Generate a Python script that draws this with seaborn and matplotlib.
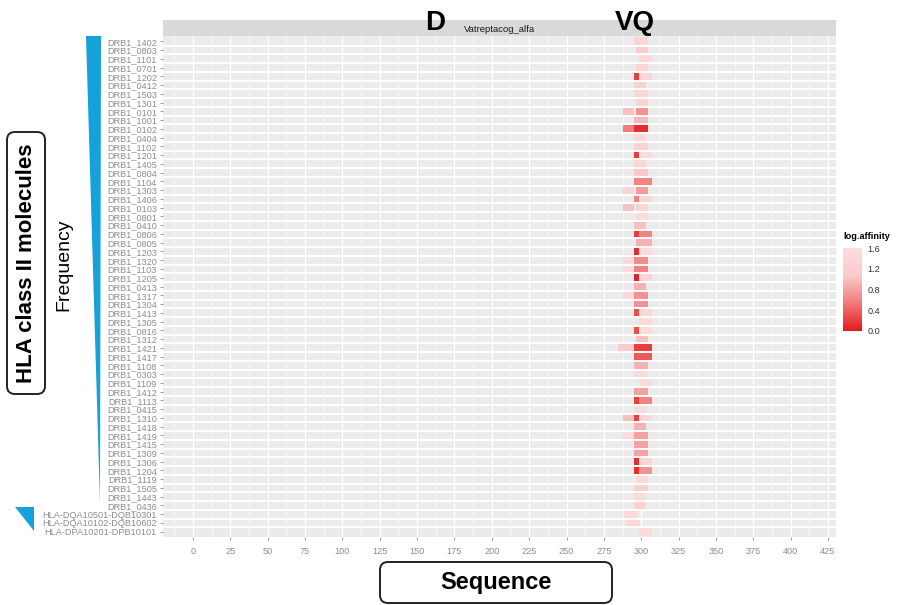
import numpy as np
import pandas as pd
import seaborn as sns
import matplotlib.pyplot as plt
from matplotlib.colors import LinearSegmentedColormap
from matplotlib.patches import FancyBboxPatch, Polygon, Rectangle
from matplotlib.transforms import blended_transform_factory

alleles = ['DRB1_1402', 'DRB1_0803', 'DRB1_1101', 'DRB1_0701', 'DRB1_1202', 'DRB1_0412',
           'DRB1_1503', 'DRB1_1301', 'DRB1_0101', 'DRB1_1001', 'DRB1_0102', 'DRB1_0404',
           'DRB1_1102', 'DRB1_1201', 'DRB1_1405', 'DRB1_0804', 'DRB1_1104', 'DRB1_1303',
           'DRB1_1406', 'DRB1_0103', 'DRB1_0801', 'DRB1_0410', 'DRB1_0806', 'DRB1_0805',
           'DRB1_1203', 'DRB1_1320', 'DRB1_1103', 'DRB1_1205', 'DRB1_0413', 'DRB1_1317',
           'DRB1_1304', 'DRB1_1413', 'DRB1_1305', 'DRB1_0816', 'DRB1_1312', 'DRB1_1421',
           'DRB1_1417', 'DRB1_1108', 'DRB1_0303', 'DRB1_1109', 'DRB1_1412', 'DRB1_1113',
           'DRB1_0415', 'DRB1_1310', 'DRB1_1418', 'DRB1_1419', 'DRB1_1415', 'DRB1_1309',
           'DRB1_1306', 'DRB1_1204', 'DRB1_1119', 'DRB1_1505', 'DRB1_1443', 'DRB1_0436',
           'HLA-DQA10501-DQB10301', 'HLA-DQA10102-DQB10602', 'HLA-DPA10201-DPB10101']

nan = np.nan
# main binding window per allele (sequence positions) and its log.affinity
core_start = [296, 297, 299, 297, 299, 296, 296, 297, 297, 296, 296, 296, 296, 299, 296, 296, 296, 297, 299,
              297, 297, 296, 299, 297, 299, 296, 296, 299, 296, 296, 296, 299, 299, 299, 297, 296, 296, 296,
              296, 299, 296, 299, 296, 299, 296, 296, 296, 296, 299, 299, 297, 296, 296, 296, 289, 290, 299]
core_end = [304, 304, 307, 304, 307, 303, 304, 304, 304, 304, 304, 303, 304, 307, 303, 304, 307, 304, 307,
            304, 304, 303, 307, 307, 307, 304, 304, 307, 303, 304, 304, 307, 307, 307, 304, 307, 307, 304,
            304, 307, 304, 307, 303, 307, 303, 304, 304, 304, 307, 307, 304, 304, 303, 303, 297, 299, 307]
core_val = [1.4, 1.15, 1.45, 1.4, 1.4, 1.25, 1.4, 1.35, 0.7, 0.95, 0.1, 1.45, 1.3, 1.5, 1.4, 1.05, 0.6, 0.75,
            1.4, 1.35, 1.5, 1.0, 0.6, 0.9, 1.5, 0.65, 0.6, 1.35, 0.9, 0.7, 0.7, 1.4, 1.5, 1.5, 1.0, 0.2, 0.35,
            0.9, 1.5, 1.5, 0.8, 0.6, 1.5, 1.4, 0.9, 0.8, 0.8, 0.8, 1.4, 0.7, 1.5, 1.2, 1.5, 1.3, 1.5, 1.45, 1.5]
# anchor window 296-298
anchor_val = [nan, nan, nan, nan, 0.2, nan, nan, nan, nan, nan, nan, nan, nan, 0.2, nan, nan, nan, nan, 0.6,
              nan, nan, nan, 0.2, nan, 0.1, nan, nan, 0.05, nan, nan, nan, 0.3, nan, 0.3, nan, nan, nan, nan,
              nan, nan, nan, 0.2, nan, 0.2, nan, nan, nan, nan, 0.1, 0.1, nan, nan, nan, nan, nan, nan, nan]
# upstream window (ends at 295)
flank_start = [288] * 35 + [285] + [288] * 21
flank_val = [nan, nan, nan, nan, nan, nan, nan, nan, 1.0, nan, 0.55, nan, nan, nan, nan, nan, nan, 1.35, nan,
             1.0, nan, nan, nan, nan, nan, 1.5, 1.55, nan, nan, 1.5, nan, nan, nan, nan, nan, 1.15, nan, nan,
             nan, nan, nan, nan, nan, 1.0, nan, 1.55, nan, nan, nan, nan, nan, nan, nan, nan, nan, nan, nan]

x_ticks = list(range(0, 426, 25))
mutation_labels = ['D', 'VQ']
mutation_pos = [162, 296]

positions = np.arange(-21, 433)
p0 = positions[0]
mat = np.full((len(alleles), len(positions)), np.nan)
for i in range(len(alleles)):
    if not np.isnan(flank_val[i]):
        mat[i, flank_start[i] - p0:295 - p0 + 1] = flank_val[i]
    mat[i, core_start[i] - p0:core_end[i] - p0 + 1] = core_val[i]
    if not np.isnan(anchor_val[i]):
        mat[i, 296 - p0:298 - p0 + 1] = anchor_val[i]
df = pd.DataFrame(mat, index=alleles, columns=positions)

sns.set_theme(style='white')
plt.rcParams['font.family'] = ['Liberation Sans', 'DejaVu Sans']
plt.rcParams['text.color'] = 'black'

W, H = 898, 605
fig = plt.figure(figsize=(W / 100, H / 100), dpi=100)


def fx(x):
    return x / W


def fy(y):
    return 1 - y / H


ax = fig.add_axes([fx(163), fy(537), (836 - 163) / W, (537 - 36) / H])
cax = fig.add_axes([fx(843), fy(331), 19 / W, (331 - 248) / H])

cmap = LinearSegmentedColormap.from_list('aff', ['#E21A1C', '#F07A7A', '#F9CACA', '#FCDDDD'])
sns.heatmap(df, cmap=cmap, vmin=0, vmax=1.6, ax=ax, cbar_ax=cax,
            xticklabels=False, yticklabels=False)
ax.set_facecolor('#EBEBEB')


def px(p):
    return p - p0 + 0.5


ax.set_xlim(px(-20.1), px(430.4))
ax.set_ylim(len(alleles) + 0.1, -0.1)

for t in x_ticks:
    ax.axvline(px(t), color='white', lw=0.9, zorder=0.5)
    ax.axvline(px(t - 12.5), color='white', lw=0.45, zorder=0.5)
ax.hlines(np.arange(1, len(alleles)), px(-25), px(435), color='white', lw=1.4, zorder=3)

ax.set_xticks([px(t) for t in x_ticks])
ax.set_xticklabels([str(t) for t in x_ticks], rotation=0)
ax.set_yticks(np.arange(len(alleles)) + 0.5)
ax.set_yticklabels(alleles)
ax.tick_params(axis='both', labelsize=6.6, labelcolor='#8C8C8C', color='#8C8C8C',
               length=2.5, width=0.6, pad=2, left=True, bottom=True)
ax.tick_params(axis='x', pad=5)
ax.set_xlabel('')
ax.set_ylabel('')
for s in ax.spines.values():
    s.set_visible(False)

cbar = ax.collections[0].colorbar
cbar.outline.set_visible(False)
cbar.set_ticks([0, 0.4, 0.8, 1.2, 1.6])
cbar.set_ticklabels(['0.0', '0.4', '0.8', '1.2', '1.6'])
cax.tick_params(axis='y', direction='in', color='white', length=3, width=0.8,
                labelsize=6.6, labelcolor='#333333', pad=4)
fig.text(fx(843), fy(237), 'log.affinity', fontsize=6.6, fontweight='bold', va='center', ha='left')

# strip
fig.add_artist(Rectangle((fx(163), fy(36)), (836 - 163) / W, 16 / H, transform=fig.transFigure,
                         facecolor='#D9D9D9', edgecolor='none', zorder=0))
fig.text(fx(499.5), fy(29), 'Vatreptacog_alfa', fontsize=6.8, ha='center', va='center', color='#1A1A1A')

trans = blended_transform_factory(ax.transData, fig.transFigure)
for lab, pos in zip(mutation_labels, mutation_pos):
    ax.text(px(pos), fy(30), lab, transform=trans, fontsize=20, fontweight='bold', color='black',
            ha='center', va='baseline', clip_on=False, zorder=5)

# frequency triangles
blue = '#15A1D9'
fig.add_artist(Polygon([(fx(86), fy(36)), (fx(101), fy(36)), (fx(100), fy(503))],
                       closed=True, transform=fig.transFigure, facecolor=blue, edgecolor='none'))
fig.add_artist(Polygon([(fx(15), fy(507)), (fx(34), fy(507)), (fx(34), fy(531))],
                       closed=True, transform=fig.transFigure, facecolor=blue, edgecolor='none'))


def box(x0, y0, x1, y1):
    fig.add_artist(FancyBboxPatch((x0 / 100, (H - y1) / 100), (x1 - x0) / 100, (y1 - y0) / 100,
                                  boxstyle='round,pad=0,rounding_size=0.08',
                                  transform=fig.dpi_scale_trans, facecolor='white',
                                  edgecolor='#222222', lw=1.4))


box(7, 132, 45, 394)
fig.text(fx(27), fy(263), 'HLA class II molecules', rotation=90, fontsize=16, fontweight='bold',
         ha='center', va='center', color='black')
fig.text(fx(64), fy(265), 'Frequency', rotation=90, fontsize=14, ha='center', va='center', color='black')

box(380, 562, 612, 603)
fig.text(fx(496), fy(582), 'Sequence', fontsize=17, fontweight='bold', ha='center', va='center',
         color='black')

fig.savefig('out.png', dpi=100)
